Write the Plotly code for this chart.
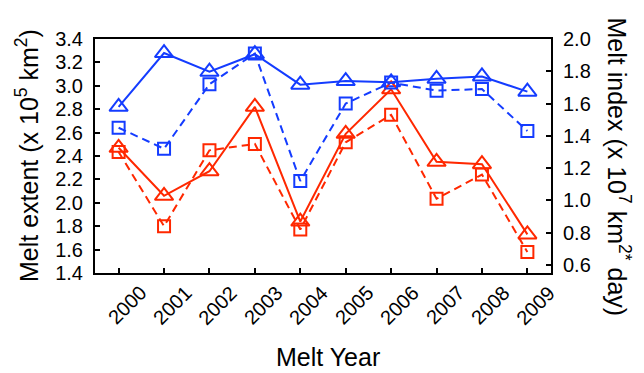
import plotly.graph_objects as go

years = [2000, 2001, 2002, 2003, 2004, 2005, 2006, 2007, 2008, 2009]
year_labels = [str(y) for y in years]

# Melt extent (left axis, x 10^5 km^2) - triangles, solid
extent_blue = [2.82, 3.28, 3.12, 3.27, 3.01, 3.04, 3.03, 3.06, 3.08, 2.95]
extent_red = [2.47, 2.06, 2.27, 2.82, 1.84, 2.59, 2.97, 2.35, 2.33, 1.73]
# Melt index (right axis, x 10^7 km^2* day) - squares, dashed
index_blue = [1.45, 1.32, 1.72, 1.91, 1.12, 1.60, 1.73, 1.68, 1.69, 1.43]
index_red = [1.30, 0.84, 1.31, 1.35, 0.82, 1.36, 1.53, 1.01, 1.16, 0.68]

left_ticks = [1.4, 1.6, 1.8, 2.0, 2.2, 2.4, 2.6, 2.8, 3.0, 3.2, 3.4]
right_ticks = [0.6, 0.8, 1.0, 1.2, 1.4, 1.6, 1.8, 2.0]

BLUE = "rgb(20,60,255)"
RED = "rgb(255,40,0)"
FONT = "Liberation Sans, Arial, Helvetica, sans-serif"

fig = go.Figure()

def add(y, color, dash, symbol, size, axis):
    fig.add_trace(go.Scatter(
        x=years, y=y, mode="lines+markers", yaxis=axis,
        line=dict(color=color, width=2, dash=dash),
        marker=dict(symbol=symbol, size=size, color=color,
                    line=dict(color=color, width=2)),
        showlegend=False, cliponaxis=False))

add(index_blue, BLUE, "8px,5px", "square-open", 12, "y2")
add(index_red, RED, "8px,5px", "square-open", 12, "y2")
add(extent_blue, BLUE, "solid", "triangle-up-open", 16, "y")
add(extent_red, RED, "solid", "triangle-up-open", 16, "y")

axis_common = dict(showline=True, linecolor="black", linewidth=2,
                   ticks="inside", ticklen=5, tickwidth=1.5, tickcolor="black",
                   showgrid=False, zeroline=False)

# page body has an 8px default margin, so the figure is placed 8px in
fig.update_layout(
    width=636, height=365,
    margin=dict(l=87, r=93, t=31, b=100),
    paper_bgcolor="white", plot_bgcolor="white",
    font=dict(family=FONT, color="black"),
    xaxis=dict(range=[1999.48, 2009.52], tickvals=years, showticklabels=False,
               mirror=True, **axis_common),
    yaxis=dict(range=[1.4, 3.4], tickvals=left_ticks, tickformat=".1f",
               tickfont=dict(size=20, family=FONT), ticklabelstandoff=6,
               **axis_common),
    yaxis2=dict(range=[0.55, 2.0], tickvals=right_ticks, tickformat=".1f",
                overlaying="y", side="right",
                tickfont=dict(size=20, family=FONT), ticklabelstandoff=6,
                **axis_common),
)

annotations = []
for yr, lab in zip(years, year_labels):
    annotations.append(dict(x=yr, xref="x", y=0, yref="paper", text=lab,
                            showarrow=False, textangle=-45, xanchor="center",
                            yanchor="middle", xshift=8.5, yshift=-32,
                            font=dict(size=20, family=FONT)))
annotations.append(dict(x=0.512, xref="paper", y=0, yref="paper", text="Melt Year",
                        showarrow=False, xanchor="center", yanchor="middle",
                        yshift=-84, font=dict(size=25, family=FONT)))
annotations.append(dict(x=0, xref="paper", y=0.5, yref="paper",
                        text="Melt extent (x 10<sup>5</sup> km<sup>2</sup>)",
                        showarrow=False, textangle=-90, xanchor="center",
                        yanchor="middle", xshift=-68, font=dict(size=25, family=FONT)))
annotations.append(dict(x=1, xref="paper", y=0.455, yref="paper",
                        text="Melt index (x 10<sup>7</sup> km<sup>2*</sup> day)",
                        showarrow=False, textangle=90, xanchor="center",
                        yanchor="middle", xshift=68, font=dict(size=25, family=FONT)))
fig.update_layout(annotations=annotations)

fig.write_html("out.html")
